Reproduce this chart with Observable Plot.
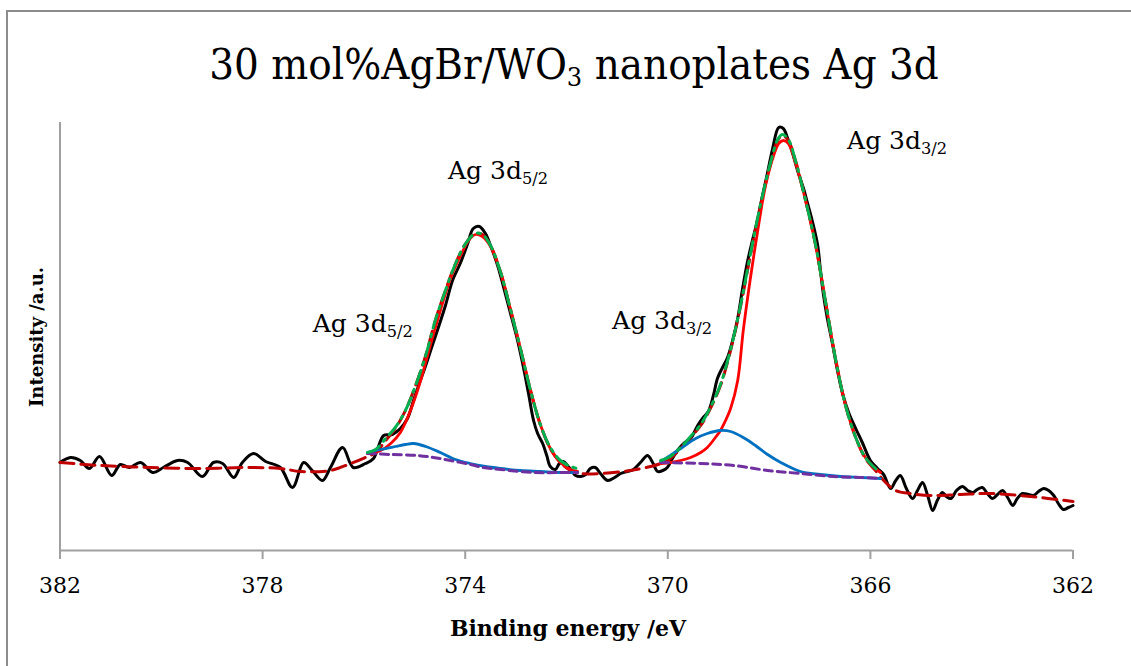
<!DOCTYPE html>
<html>
<head>
<meta charset="utf-8">
<script src="https://cdn.jsdelivr.net/npm/d3@7"></script>
<script src="https://cdn.jsdelivr.net/npm/@observablehq/plot@0.6"></script>
<style>
  html, body { margin: 0; padding: 0; background: #fff; }
  #wrap { position: relative; width: 1131px; height: 666px; overflow: hidden; font-family: "DejaVu Serif", serif; }
  #frame { position: absolute; left: 6px; top: 10px; width: 1200px; height: 800px; border-left: 2px solid #8c8c8c; border-top: 2px solid #8c8c8c; }
  #chart { position: absolute; left: 0; top: 0; }
  .title { position: absolute; left: 574px; top: 66px; transform: translate(-50%, -50%) scaleY(1.1); font-size: 39px; white-space: nowrap; color: #000; }
  .title sub { font-size: 0.62em; vertical-align: -0.25em; }
  .ann { position: absolute; font-size: 25px; white-space: nowrap; transform: translateY(-50%); color: #000; }
  .ann sub { font-size: 0.65em; vertical-align: -0.35em; }
  .xt { position: absolute; left: 568px; top: 628px; transform: translate(-50%, -50%); font-size: 22px; font-weight: bold; white-space: nowrap; }
  .yt { position: absolute; left: 36px; top: 337px; transform: translate(-50%, -50%) rotate(-90deg); font-size: 18px; font-weight: bold; white-space: nowrap; }
  #chart [aria-label="x-axis tick"] path { stroke: #a0a0a0; stroke-width: 2; }
  #chart [aria-label="x-axis tick label"] text { font-size: 22px; fill: #000; }
</style>
</head>
<body>
<div id="wrap">
  <div id="frame"></div>
  <div id="chart"></div>
  <div class="title">30 mol%AgBr/WO<sub>3</sub> nanoplates Ag 3d</div>
  <div class="xt">Binding energy /eV</div>
  <div class="yt">Intensity /a.u.</div>
</div>
<script>
// ---- tick labels ----
const xTicks = [382, 378, 374, 370, 366, 362];

// ---- raw spectrum (black) ----
const rawE = [382.0,381.79,381.60,381.42,381.22,380.98,380.81,380.63,380.41,380.17,379.96,379.68,379.48,379.19,378.97,378.79,378.57,378.40,378.18,377.94,377.65,377.41,377.19,377.02,376.82,376.66,376.42,376.21,375.97,375.81,375.61,375.44,375.28,375.14,375.02,374.92,374.78,374.65,374.53,374.39,374.25,374.09,373.95,373.84,373.72,373.60,373.50,373.36,373.24,373.11,372.99,372.87,372.75,372.65,372.57,372.47,372.39,372.32,372.22,372.14,372.06,371.98,371.90,371.82,371.72,371.62,371.53,371.43,371.33,371.19,371.05,370.93,370.80,370.68,370.54,370.40,370.30,370.20,370.10,370.01,369.91,369.81,369.69,369.55,369.41,369.30,369.20,369.10,369.02,368.92,368.82,368.72,368.62,368.53,368.43,368.33,368.23,368.13,368.03,367.93,367.81,367.72,367.64,367.54,367.42,367.32,367.24,367.14,367.04,366.99,366.93,366.85,366.75,366.65,366.55,366.43,366.29,366.16,366.00,365.86,365.74,365.60,365.50,365.41,365.29,365.17,365.07,364.97,364.87,364.77,364.68,364.58,364.50,364.41,364.30,364.18,364.08,363.98,363.89,363.79,363.69,363.59,363.49,363.39,363.29,363.19,363.10,363.00,362.88,362.78,362.68,362.58,362.48,362.38,362.29,362.19,362.09,362.0];
const rawI = [88,93,90,82,94,75,86,83,88,78,83,90,88,74,88,87,73,88,97,89,83,63,88,80,70,83,103,83,87,92,115,116,122,132,150,165,185,205,223,245,270,288,307,322,324,317,305,285,263,238,215,188,157,130,117,107,95,84,81,87,89,85,80,75,74,76,82,83,77,70,73,77,79,81,88,95,88,79,80,83,92,100,107,112,125,133,139,155,172,183,193,210,232,260,288,310,330,355,378,402,423,422,413,398,377,362,347,328,305,282,257,232,207,180,157,138,122,108,90,82,76,62,70,75,62,52,60,68,55,40,50,58,54,52,60,64,60,58,61,63,57,52,56,60,53,45,52,57,56,55,59,62,60,55,47,41,43,45];

// ---- overall fit envelope incl. background (dark red dashed) ----
const envE = [382.0,381.20,380.21,379.23,378.24,377.65,377.25,376.66,376.26,375.97,375.77,375.57,375.38,375.18,374.98,374.78,374.59,374.39,374.19,373.99,373.80,373.66,373.50,373.30,373.11,372.91,372.71,372.51,372.32,372.12,371.92,371.72,371.33,370.74,370.34,370.14,369.95,369.75,369.55,369.35,369.16,368.96,368.76,368.56,368.37,368.17,367.97,367.83,367.74,367.62,367.48,367.28,367.08,366.89,366.69,366.49,366.29,366.10,365.90,365.70,365.50,365.21,364.81,364.22,363.63,362.84,362.0];
const envI = [88,85,83,82,83,82,79,80,87,93,98,110,122,140,165,195,230,260,287,307,317,316,305,278,242,202,160,125,102,88,80,77,77,80,84,87,92,102,113,125,142,165,200,245,295,345,387,410,415,410,390,350,305,250,192,145,113,92,80,68,60,57,55,56,57,54,49];

// ---- fitted sum within peak windows (green dash-dot) ----
const sum1E = [375.93,375.77,375.57,375.38,375.18,374.98,374.78,374.59,374.39,374.19,373.99,373.80,373.66,373.50,373.30,373.11,372.91,372.71,372.51,372.32,372.12,371.92,371.78];
const sum1I = [98,101,112,123,140,165,195,230,260,287,307,317,316,305,278,242,202,160,125,103,90,84,82];
const sum2E = [370.14,369.95,369.75,369.55,369.35,369.16,368.96,368.76,368.56,368.37,368.17,367.97,367.83,367.74,367.62,367.48,367.28,367.08,366.89,366.69,366.49,366.29,366.10,365.90,365.80];
const sum2I = [90,94,103,114,126,143,166,201,246,296,346,388,411,416,411,390,350,305,250,192,145,113,93,82,78];

// ---- main components (red solid) ----
const main1E = [375.93,375.67,375.47,375.28,375.08,374.88,374.69,374.49,374.29,374.09,373.93,373.80,373.66,373.50,373.30,373.11,372.91,372.71,372.51,372.32,372.12,371.92,371.78];
const main1I = [97,100,107,118,140,170,205,240,272,295,310,316,314,304,278,242,202,160,125,102,88,81,79];
const main2E = [370.14,369.95,369.75,369.55,369.35,369.22,369.06,368.96,368.86,368.76,368.62,368.51,368.37,368.23,368.07,367.91,367.81,367.72,367.62,367.48,367.28,367.08,366.89,366.69,366.49,366.29,366.10,365.90,365.80];
const main2I = [87,88,90,93,98,103,113,120,130,142,170,220,272,318,365,395,407,410,407,388,350,305,250,192,145,113,93,82,78];

// ---- minor components (blue) ----
const minor1E = [375.93,375.67,375.38,375.18,375.02,374.78,374.49,374.19,373.90,373.60,373.30,372.91,372.51,372.12,371.78];
const minor1I = [98,101,104,106,107,104,98,91,87,84,82,80,79,78,78];
const minor2E = [370.14,369.95,369.69,369.45,369.22,368.96,368.76,368.51,368.27,368.03,367.77,367.38,366.99,366.59,366.20,365.80];
const minor2I = [89,95,104,112,117,120,119,113,105,96,88,79,76,74,73,72];

// ---- Shirley background (purple dashed) ----
const bg1E = [375.93,375.47,374.94,374.63,374.29,373.90,373.64,373.30,372.65,372.12,371.78];
const bg1I = [97,96,95,93,90,86,83,81,78,78,78];
const bg2E = [370.14,369.35,368.70,368.03,367.38,366.73,366.20,365.80];
const bg2I = [88,87,85,80,77,74,73,72];

// ---- peak annotations ----
const labelE = [374.33, 377.0, 371.09, 366.45];
const labelI = [378, 225, 228, 408];
const labelMain = ["Ag 3d", "Ag 3d", "Ag 3d", "Ag 3d"];
const labelSub = ["5/2", "5/2", "3/2", "3/2"];

const zip = (E, I) => E.map((e, i) => ({e, v: I[i]}));
const curve = "catmull-rom";

const plot = Plot.plot({
  width: 1131,
  height: 666,
  marginLeft: 59.5,
  marginRight: 58.5,
  marginTop: 122,
  marginBottom: 116,
  style: {background: "transparent", fontFamily: "DejaVu Serif, serif", overflow: "visible"},
  x: {domain: [382, 362], label: null},
  y: {domain: [0, 428], axis: null},
  marks: [
    Plot.ruleY([0], {stroke: "#a0a0a0", strokeWidth: 2}),
    Plot.ruleX([382], {y1: 0, y2: 428, stroke: "#a0a0a0", strokeWidth: 2}),
    Plot.axisX({ticks: xTicks, tickFormat: d => String(d), tickSize: 9, tickPadding: 18, label: null}),
    Plot.line(zip(rawE, rawI), {x: "e", y: "v", stroke: "#000", strokeWidth: 3, curve}),
    Plot.line(zip(envE, envI), {x: "e", y: "v", stroke: "#c00000", strokeWidth: 3, strokeDasharray: "14,7", curve}),
    Plot.line(zip(main1E, main1I), {x: "e", y: "v", stroke: "#ff0000", strokeWidth: 2.8, curve}),
    Plot.line(zip(main2E, main2I), {x: "e", y: "v", stroke: "#ff0000", strokeWidth: 2.8, curve}),
    Plot.line(zip(minor1E, minor1I), {x: "e", y: "v", stroke: "#0070c0", strokeWidth: 2.8, curve}),
    Plot.line(zip(minor2E, minor2I), {x: "e", y: "v", stroke: "#0070c0", strokeWidth: 2.8, curve}),
    Plot.line(zip(bg1E, bg1I), {x: "e", y: "v", stroke: "#7030a0", strokeWidth: 3, strokeDasharray: "8,5", curve}),
    Plot.line(zip(bg2E, bg2I), {x: "e", y: "v", stroke: "#7030a0", strokeWidth: 3, strokeDasharray: "8,5", curve}),
    Plot.line(zip(sum1E, sum1I), {x: "e", y: "v", stroke: "#00b050", strokeWidth: 3, strokeDasharray: "14,6,3,6", curve}),
    Plot.line(zip(sum2E, sum2I), {x: "e", y: "v", stroke: "#00b050", strokeWidth: 3, strokeDasharray: "14,6,3,6", curve})
  ]
});
document.getElementById("chart").appendChild(plot);

const sx = plot.scale("x"), sy = plot.scale("y");
const wrap = document.getElementById("wrap");
labelE.forEach((e, i) => {
  const d = document.createElement("div");
  d.className = "ann";
  d.style.left = sx.apply(e) + "px";
  d.style.top = sy.apply(labelI[i]) + "px";
  d.innerHTML = labelMain[i] + "<sub>" + labelSub[i] + "</sub>";
  wrap.appendChild(d);
});
</script>
</body>
</html>
